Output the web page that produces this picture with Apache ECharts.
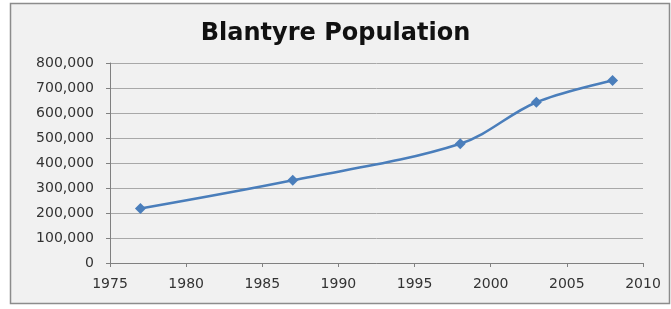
<!DOCTYPE html>
<html><head><meta charset="utf-8">
<script src="https://cdn.jsdelivr.net/npm/echarts@6/dist/echarts.min.js"></script>
<style>html,body{margin:0;padding:0;background:#fff;}#c{width:671px;height:309px;}</style>
</head><body><div id="c"></div>
<script>
const years = [1977, 1987, 1998, 2003, 2008];
const population = [218000, 331000, 477000, 643000, 730000];
const titleText = 'Blantyre Population';

const chart = echarts.init(document.getElementById('c'));
chart.setOption({
  animation: false,
  backgroundColor: '#ffffff',
  graphic: [{
    type: 'rect', z: -10,
    shape: {x: 10.5, y: 3.5, width: 659, height: 300},
    style: {fill: '#f1f1f1', stroke: '#8c8c8c', lineWidth: 1.5}
  }],
  title: {
    text: titleText, left: 'center', top: 17,
    textStyle: {fontFamily: 'DejaVu Sans', fontWeight: 'bold', fontSize: 24, color: '#111'}
  },
  grid: {left: 110, right: 28, top: 63, bottom: 46},
  xAxis: {
    type: 'value', min: 1975, max: 2010, interval: 5,
    axisLine: {show: true, lineStyle: {color: '#808080'}},
    axisTick: {show: true, length: 4, lineStyle: {color: '#808080'}},
    splitLine: {show: false},
    axisLabel: {fontFamily: 'DejaVu Sans', fontSize: 14, color: '#333', margin: 14,
      formatter: v => String(v)}
  },
  yAxis: {
    type: 'value', min: 0, max: 800000, interval: 100000,
    axisLine: {show: true, lineStyle: {color: '#808080'}},
    axisTick: {show: true, length: 4, lineStyle: {color: '#808080'}},
    splitLine: {show: true, lineStyle: {color: '#a8a8a8', width: 1}},
    axisLabel: {
      fontFamily: 'DejaVu Sans', fontSize: 14, color: '#333', margin: 16,
      formatter: v => v.toLocaleString('en-US')
    }
  },
  series: [{
    type: 'line',
    data: years.map((y, i) => [y, population[i]]),
    smooth: 0.35,
    symbol: 'diamond', symbolSize: 11,
    lineStyle: {color: '#4a7ebb', width: 2.5},
    itemStyle: {color: '#4a7ebb'}
  }]
});
</script></body></html>
